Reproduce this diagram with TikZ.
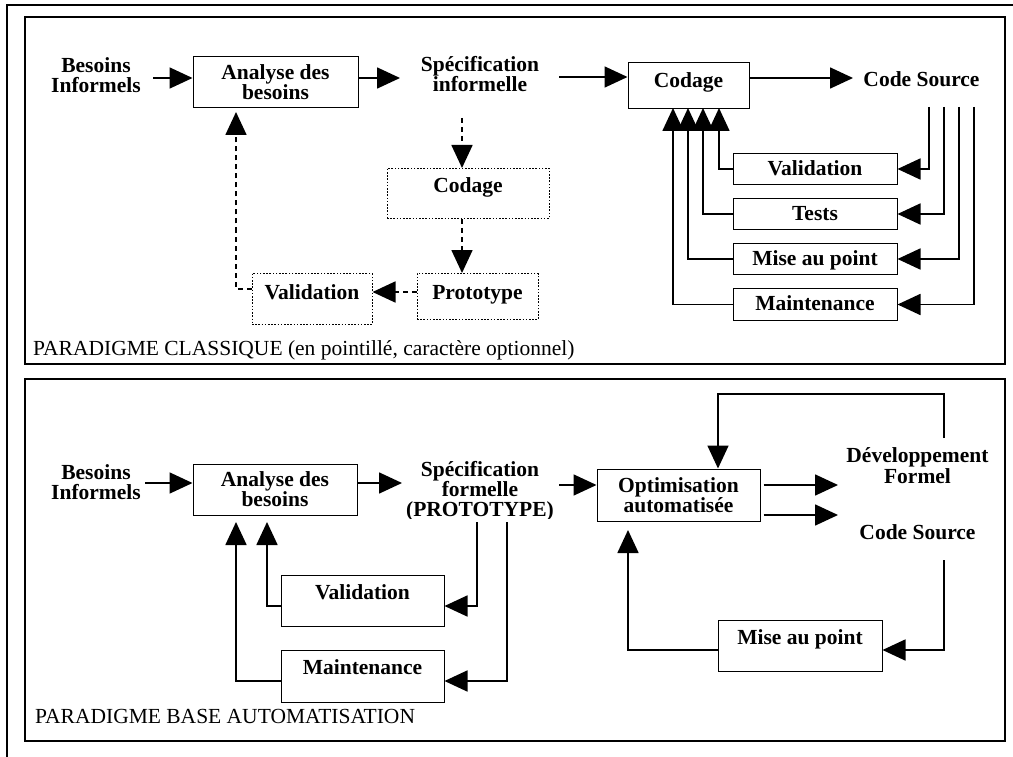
\documentclass[tikz,border=0pt]{standalone}
\usepackage{fontspec}
\setmainfont{Liberation Serif}
\usetikzlibrary{arrows.meta}
\tikzset{
  txt/.style={font=\bfseries\fontsize{21.5}{19.8}\selectfont, inner sep=0pt, align=center},
  lbl/.style={font=\fontsize{21.5}{22}\selectfont, inner sep=0pt},
  bx/.style={txt, draw, line width=1pt},
  dbx/.style={bx, dash pattern=on 1.6pt off 1.6pt},
  arr/.style={line width=1.7pt, -{Triangle[length=23pt,width=21pt]}},
  darr/.style={arr, dash pattern=on 5pt off 4pt},
  panel/.style={draw, line width=2.2pt},
}
\begin{document}
\begin{tikzpicture}[x=1pt,y=-1pt]
\useasboundingbox (0,0) rectangle (1013,757);
% frames
\draw[line width=2.6pt] (7,757) -- (7,5) -- (1013,5);
\draw[panel] (25,17) rectangle (1005,364);
\draw[panel] (25,379) rectangle (1005,741);

% ===== top panel =====
\node[txt] (bi1) at (96,75) {Besoins\\Informels};
\node[bx, minimum width=165pt, minimum height=51pt] (an1) at (275.5,82.5) {Analyse des\\besoins};
\node[txt] (sp1) at (480,74) {Spécification\\informelle};
\node[bx, minimum width=121pt, text height=25pt, text depth=21pt, anchor=north] (cd1) at (688.5,62) {Codage};
\node[txt, anchor=base] (cs1) at (921.5,87) {Code Source};
\node[dbx, minimum width=162pt, text height=24pt, text depth=26pt, anchor=north] (cdp) at (468,168) {Codage};
\node[dbx, minimum width=121pt, text height=26pt, text depth=20pt, anchor=north] (pro) at (477.5,273) {Prototype};
\node[dbx, minimum width=120pt, text height=26pt, text depth=25pt, anchor=north] (val1) at (312,273) {Validation};
\node[bx, minimum width=164pt, text height=22pt, text depth=9pt, anchor=north] (v1) at (815,153) {Validation};
\node[bx, minimum width=164pt, text height=22pt, text depth=9pt, anchor=north] (t1) at (815,198) {Tests};
\node[bx, minimum width=164pt, text height=22pt, text depth=9pt, anchor=north] (m1) at (815,243) {Mise au point};
\node[bx, minimum width=164pt, text height=22pt, text depth=10pt, anchor=north] (mt1) at (815,288) {Maintenance};
\node[lbl, anchor=base west] (l1) at (33,355) {PARADIGME CLASSIQUE (en pointillé, caractère optionnel)};

\coordinate (a1) at (153,78);
\coordinate (a2) at (400,78);
\coordinate (a3) at (559,77);
\coordinate (a4) at (853,78);
\coordinate (a5) at (462,118);
\coordinate (a6) at (0,292);
\coordinate (a7) at (236,289);
\coordinate (a8) at (236,112);
\draw[arr] (a1) -- (a1 -| an1.west);
\draw[arr] (a2 -| an1.east) -- (a2);
\draw[arr] (a3) -- (a3 -| cd1.west);
\draw[arr] (a4 -| cd1.east) -- (a4);
\draw[darr] (a5) -- (a5 |- cdp.north);
\draw[darr] (cdp.south -| a5) -- (a5 |- pro.north);
\draw[darr] (pro.west |- a6) -- (val1.east |- a6);
\draw[darr] (val1.west |- a7) -- (a7) -- (a8);

\coordinate (b1) at (929,107);
\coordinate (b2) at (944,107);
\coordinate (b3) at (959,107);
\coordinate (b4) at (974,107);
\draw[arr] (b1) |- (v1.east);
\draw[arr] (b2) |- (t1.east);
\draw[arr] (b3) |- (m1.east);
\draw[arr] (b4) |- (mt1.east);
\coordinate (c1) at (719,108);
\coordinate (c2) at (703,108);
\coordinate (c3) at (688,108);
\coordinate (c4) at (673,108);
\draw[arr] (v1.west) -| (c1);
\draw[arr] (t1.west) -| (c2);
\draw[arr] (m1.west) -| (c3);
\draw[arr] (mt1.west) -| (c4);

% ===== bottom panel =====
\node[txt] (bi2) at (96,482) {Besoins\\Informels};
\node[bx, minimum width=164pt, minimum height=51pt] (an2) at (275,489.5) {Analyse des\\besoins};
\begin{scope}
\clip (380,440) rectangle (580,518);
\node[txt] (sp2) at (480,491) {Spécification\\formelle\\(PROTOTYPE)};
\end{scope}
\node[bx, minimum width=163pt, minimum height=52pt] (op) at (678.5,495) {Optimisation\\automatisée};
\node[txt, font=\bfseries\fontsize{21.5}{21}\selectfont] (df) at (917.5,465.5) {Développement\\Formel};
\node[txt, anchor=base] (cs2) at (917.5,539) {Code Source};
\node[bx, minimum width=163pt, text height=24pt, text depth=27pt, anchor=north] (val2) at (362.5,575) {Validation};
\node[bx, minimum width=163pt, text height=24pt, text depth=28pt, anchor=north] (mnt2) at (362.5,650) {Maintenance};
\node[bx, minimum width=164pt, text height=24pt, text depth=27pt, anchor=north] (mp2) at (800,620) {Mise au point};
\node[lbl, anchor=base west] (l2) at (35,723) {PARADIGME BASE AUTOMATISATION};

\coordinate (d1) at (145,483);
\coordinate (d2) at (402,483);
\coordinate (d3) at (559,485);
\coordinate (d4) at (838,485);
\coordinate (d5) at (838,515);
\draw[arr] (d1) -- (d1 -| an2.west);
\draw[arr] (d2 -| an2.east) -- (d2);
\draw[arr] (d3) -- (d3 -| op.west);
\draw[arr, shorten <=3pt] (op.east |- d4) -- (d4);
\draw[arr, shorten <=3pt] (op.east |- d5) -- (d5);
\coordinate (e1) at (944,438);
\coordinate (e2) at (718,394);
\coordinate (e3) at (944,560);
\coordinate (e4) at (944,650);
\coordinate (e5) at (628,530);
\draw[arr] (e1) |- (e2) -- (e2 |- op.north);
\draw[arr] (e3) -- (e4) -- (e4 -| mp2.east);
\draw[arr] (mp2.west |- e4) -| (e5);
\coordinate (f1) at (477,522);
\coordinate (f2) at (507,522);
\coordinate (g1) at (0,606);
\coordinate (g2) at (0,681);
\coordinate (h1) at (267,522);
\coordinate (h2) at (236,522);
\draw[arr] (f1) |- (val2.east |- g1);
\draw[arr] (f2) |- (mnt2.east |- g2);
\draw[arr] (val2.west |- g1) -| (h1);
\draw[arr] (mnt2.west |- g2) -| (h2);
\end{tikzpicture}
\end{document}
